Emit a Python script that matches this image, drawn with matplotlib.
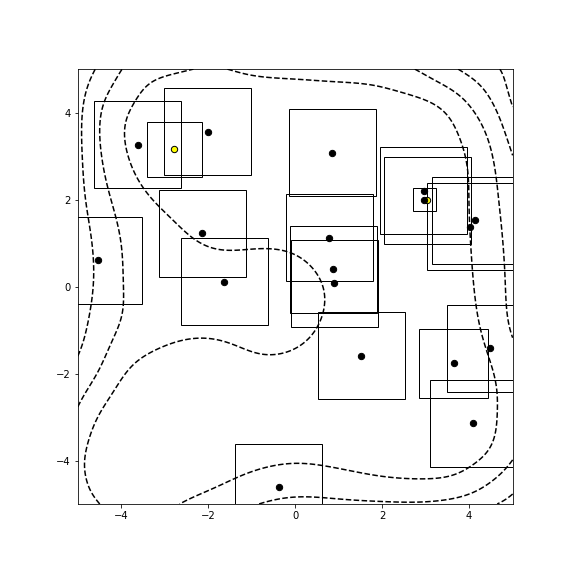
import numpy as np
import matplotlib
matplotlib.use("Agg")
import matplotlib.pyplot as plt
from matplotlib.patches import Rectangle

# sampled points (black) and the size of the square drawn round each one
pts_x = [-3.62, -2.01, -2.14, -1.63, -4.53, 0.85, 0.78, 0.88, 0.90, 1.52,
         2.96, 2.97, 4.02, 4.14, 3.65, 4.49, 4.09, -0.38]
pts_y = [3.26, 3.56, 1.23, 0.11, 0.61, 3.08, 1.12, 0.40, 0.08, -1.59,
         2.20, 2.00, 1.37, 1.53, -1.76, -1.42, -3.14, -4.62]
pts_side = [2, 2, 2, 2, 2, 2, 2, 2, 2, 2,
            2, 0.52, 2, 2, 1.585, 2, 2, 2]

# best points (yellow)
best_x = [-2.78, 3.04]
best_y = [3.16, 1.99]
best_side = [1.265, 2]

# estimated field on a coarse grid (rows = grid_y, cols = grid_x)
grid_x = [-5, -4.5, -4, -3, -2, -1, 0, 1, 2, 3, 4, 4.5, 5]
grid_y = [-5, -4.5, -4, -3, -2, -1, 0, 1, 2, 3, 4, 4.5, 5]
field = np.array([
    [1.30, 1.03, 0.60, 0.80, 1.38, 1.93, 2.26, 2.20, 2.12, 2.10, 2.50, 2.90, 3.25],
    [1.20, 0.70, 0.30, 0.40, 0.75, 1.25, 1.50, 1.35, 1.10, 1.03, 1.35, 2.00, 2.70],
    [1.15, 0.60, 0.35, 0.35, 0.50, 0.75, 0.93, 0.80, 0.65, 0.55, 0.80, 1.15, 1.98],
    [1.78, 0.85, 0.40, 0.30, 0.30, 0.30, 0.30, 0.30, 0.30, 0.30, 0.50, 0.85, 1.35],
    [2.70, 1.95, 1.05, 0.50, 0.40, 0.70, 0.65, 0.40, 0.30, 0.30, 0.50, 0.90, 1.45],
    [3.35, 2.49, 1.90, 1.30, 1.15, 1.30, 1.25, 0.70, 0.35, 0.30, 0.70, 1.28, 2.12],
    [3.55, 2.79, 1.98, 1.75, 1.60, 1.50, 1.35, 0.80, 0.35, 0.30, 0.85, 1.50, 2.25],
    [3.58, 2.70, 1.95, 1.42, 0.90, 0.90, 0.85, 0.50, 0.30, 0.30, 0.93, 1.61, 2.31],
    [3.35, 2.37, 1.68, 0.80, 0.40, 0.30, 0.30, 0.30, 0.30, 0.30, 0.97, 1.73, 2.48],
    [3.25, 2.05, 1.18, 0.20, 0.30, 0.30, 0.30, 0.30, 0.30, 0.30, 1.06, 1.87, 2.97],
    [3.25, 2.00, 1.15, 0.35, 0.30, 0.30, 0.30, 0.35, 0.40, 0.40, 1.78, 2.59, 3.90],
    [3.42, 2.31, 1.60, 0.40, 0.40, 0.55, 0.65, 0.72, 0.85, 1.41, 2.41, 3.21, 4.28],
    [3.70, 2.83, 1.97, 1.30, 0.90, 1.20, 1.30, 1.40, 1.55, 2.20, 3.28, 3.79, 4.30],
])
levels = [1, 2, 3, 4]


def spline_matrix(t, s):
    # natural cubic spline as a linear map from node values to values at s
    t = np.asarray(t, float)
    m = len(t)
    h = np.diff(t)
    A = np.zeros((m, m))
    R = np.zeros((m, m))
    A[0, 0] = A[-1, -1] = 1.0
    for i in range(1, m - 1):
        A[i, i - 1:i + 2] = [h[i - 1], 2 * (h[i - 1] + h[i]), h[i]]
        R[i, i - 1:i + 2] = [6 / h[i - 1], -6 / h[i - 1] - 6 / h[i], 6 / h[i]]
    M = np.linalg.solve(A, R)
    k = np.clip(np.searchsorted(t, s, side='right') - 1, 0, m - 2)
    hk = h[k]
    a = (t[k + 1] - s) / hk
    b = (s - t[k]) / hk
    W = np.zeros((len(s), m))
    rows = np.arange(len(s))
    W[rows, k] += a
    W[rows, k + 1] += b
    W += ((a ** 3 - a) * hk ** 2 / 6)[:, None] * M[k] + ((b ** 3 - b) * hk ** 2 / 6)[:, None] * M[k + 1]
    return W


def blur(Z, sigma):
    # gaussian smoothing, point-reflected at the edges so slopes are kept
    r = int(3 * sigma)
    g = np.exp(-0.5 * (np.arange(-r, r + 1) / sigma) ** 2)
    g /= g.sum()
    P = np.pad(Z, r, mode='reflect', reflect_type='odd')
    P = np.apply_along_axis(lambda v: np.convolve(v, g, mode='valid'), 0, P)
    P = np.apply_along_axis(lambda v: np.convolve(v, g, mode='valid'), 1, P)
    return P


xf = np.linspace(-5, 5, 401)
yf = np.linspace(-5, 5, 401)
Z = spline_matrix(grid_y, yf) @ field @ spline_matrix(grid_x, xf).T
Z = blur(Z, 10)   # 10 samples = 0.25 units

fig = plt.figure(figsize=(8, 8), dpi=72)
ax = fig.add_axes([0.135, 0.125, 0.755, 0.755])

ax.contour(xf, yf, Z, levels=levels, colors='k', linestyles='dashed', linewidths=1.5, zorder=1)

for cx, cy, s in zip(pts_x + best_x, pts_y + best_y, pts_side + best_side):
    ax.add_patch(Rectangle((cx - s / 2, cy - s / 2), s, s, fill=False, ec='k', lw=1, zorder=2))

ax.scatter(best_x, best_y, c='yellow', edgecolors='k', s=40, zorder=3)
ax.scatter(pts_x, pts_y, c='k', s=40, zorder=4)

ax.set_xlim(-5, 5)
ax.set_ylim(-5, 5)
ax.set_xticks([-4, -2, 0, 2, 4])
ax.set_yticks([-4, -2, 0, 2, 4])

fig.savefig("out.png", dpi=72)
